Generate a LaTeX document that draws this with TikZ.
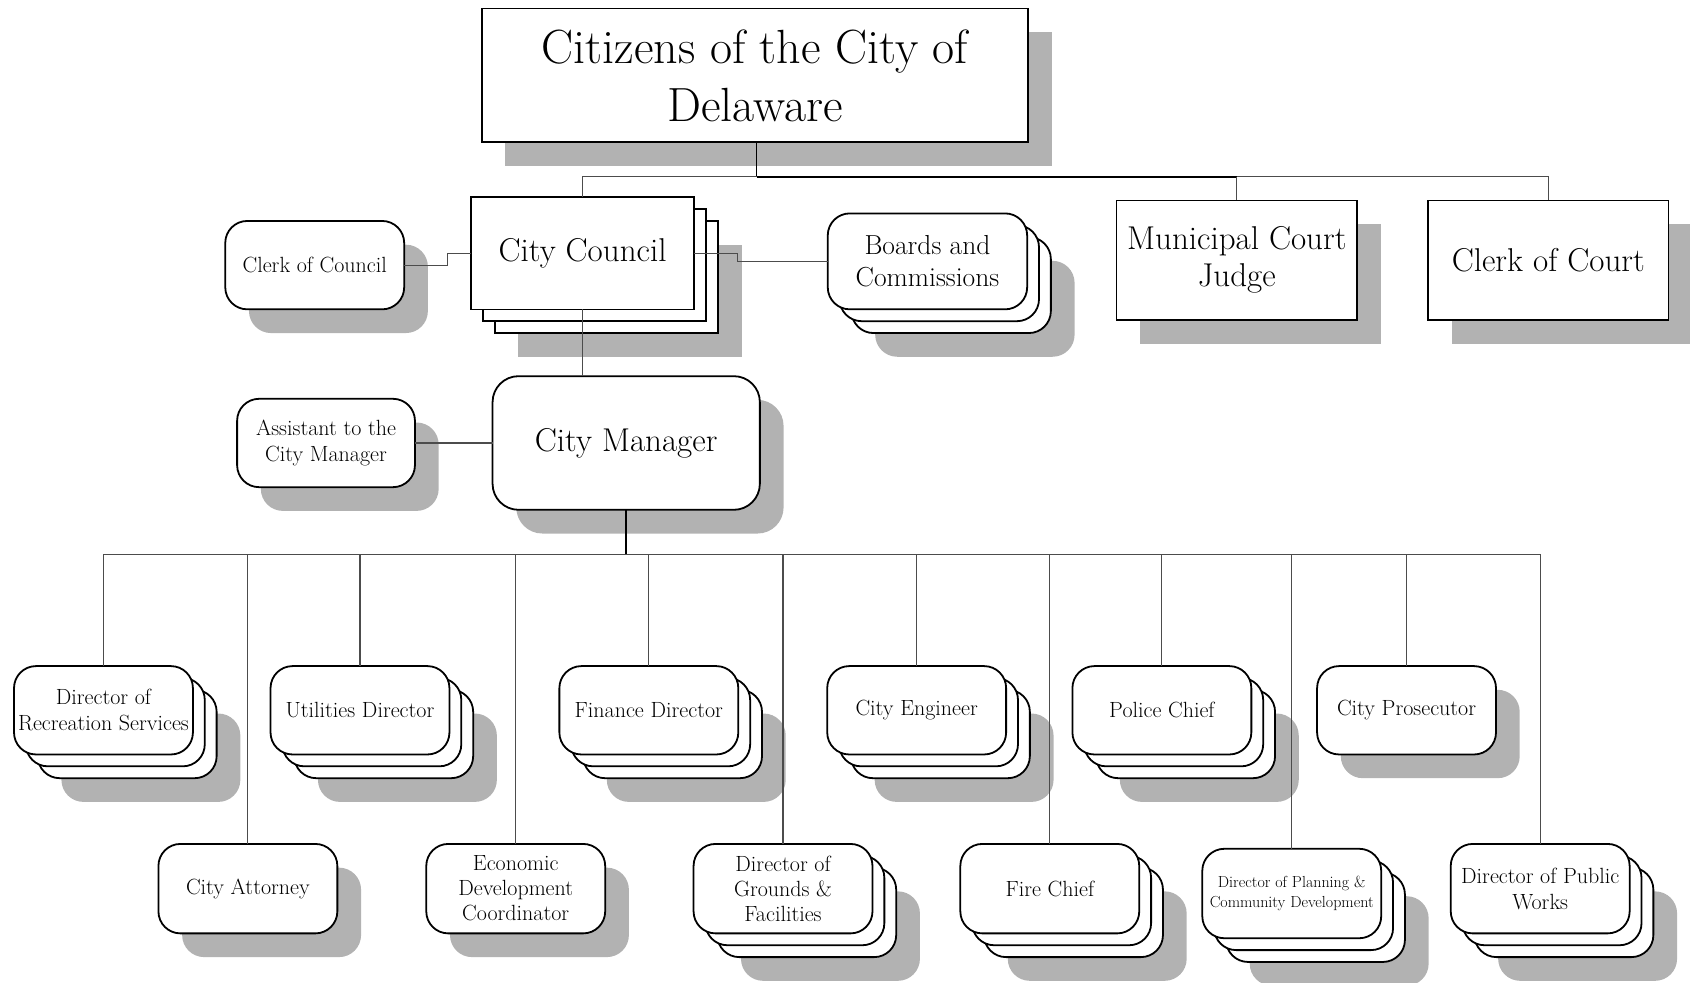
\documentclass[tikz,border=0pt]{standalone}
\usetikzlibrary{calc}
\pgfdeclarelayer{shd}
\pgfdeclarelayer{back}
\pgfsetlayers{shd,back,main}
\newcommand{\fhuge}{\fontsize{48}{58}\selectfont}
\newcommand{\fbig}{\fontsize{33}{37}\selectfont}
\newcommand{\fmid}{\fontsize{27.5}{32}\selectfont}
\newcommand{\fsm}{\fontsize{22}{26}\selectfont}
\newcommand{\fsmm}{\fontsize{22}{25}\selectfont}
\newcommand{\ftiny}{\fontsize{16}{19.5}\selectfont}
\tikzset{
  shd/.style={fill=gray!60, draw=none},
  rbox/.style={draw=black, fill=white, line width=1.8pt, rounded corners=22pt, inner sep=0pt, outer sep=0pt, align=center},
  rboxl/.style={draw=black, fill=white, line width=1.8pt, rounded corners=26pt, inner sep=0pt, outer sep=0pt, align=center},
  sbox/.style={draw=black, fill=white, line width=1.6pt, inner sep=0pt, outer sep=0pt, align=center},
  conn/.style={draw=black!70, line width=1.1pt},
  connb/.style={draw=black, line width=2pt},
  connm/.style={draw=black, line width=1.5pt},
}
% name, style, cx, cy, w, h, stack(0/1), text
\newcommand{\orgnode}[8]{%
  \node[#2, minimum width={#5*1.0778pt}, minimum height={#6*1.0778pt}] (#1) at (#3,#4) {#8};
  \ifnum#7=1
    \begin{pgfonlayer}{back}
      \draw[#2] ($(#1.south west)+(22,22)$) rectangle ($(#1.north east)+(22,22)$);
      \draw[#2] ($(#1.south west)+(11,11)$) rectangle ($(#1.north east)+(11,11)$);
    \end{pgfonlayer}
    \begin{pgfonlayer}{shd}
      \fill[#2,shd] ($(#1.south west)+(44,44)$) rectangle ($(#1.north east)+(44,44)$);
    \end{pgfonlayer}
  \else
    \begin{pgfonlayer}{shd}
      \fill[#2,shd] ($(#1.south west)+(22,22)$) rectangle ($(#1.north east)+(22,22)$);
    \end{pgfonlayer}
  \fi}
\begin{document}
\begin{tikzpicture}[x=1.0778pt, y=-1.0778pt]
\useasboundingbox (0,0) rectangle (1568,912);
% top level
\orgnode{cit}{sbox,font=\fhuge}{700.5}{70}{507}{124}{0}{Citizens of the City of\\Delaware}
\orgnode{cc}{sbox,font=\fbig}{540.5}{235}{207}{104}{1}{City Council}
\orgnode{coc}{rbox,font=\fsm}{292}{246}{166}{82}{0}{Clerk of Council}
\orgnode{bc}{rbox,font=\fmid}{860.5}{242.5}{185}{89}{1}{Boards and\\Commissions}
\orgnode{mcj}{sbox,font=\fbig}{1147.5}{241.5}{223}{111}{0}{Municipal Court\\Judge}
\orgnode{clc}{sbox,font=\fbig}{1436.5}{241.5}{223}{111}{0}{Clerk of Court}
\orgnode{cm}{rboxl,font=\fbig}{581}{411}{248}{124}{0}{City Manager}
\orgnode{asst}{rbox,font=\fsm}{302.5}{411}{165}{82}{0}{Assistant to the\\City Manager}
% upper row
\orgnode{rec}{rbox,font=\fsm}{96}{659}{166}{82}{1}{Director of\\Recreation Services}
\orgnode{util}{rbox,font=\fsm}{334}{659}{166}{82}{1}{Utilities Director}
\orgnode{fin}{rbox,font=\fsm}{602}{659}{166}{82}{1}{Finance Director}
\orgnode{eng}{rbox,font=\fsm}{850.5}{659}{166}{82}{1}{City Engineer}
\orgnode{pol}{rbox,font=\fsm}{1078}{659}{166}{82}{1}{Police Chief}
\orgnode{pros}{rbox,font=\fsm}{1305}{659}{166}{82}{0}{City Prosecutor}
% lower row
\orgnode{att}{rbox,font=\fsm}{230}{824.5}{166}{83}{0}{City Attorney}
\orgnode{econ}{rbox,font=\fsmm}{478.5}{824.5}{166}{83}{0}{Economic\\Development\\Coordinator}
\orgnode{grd}{rbox,font=\fsmm}{726.5}{824.5}{166}{83}{1}{Director of\\Grounds \&\\Facilities}
\orgnode{fire}{rbox,font=\fsm}{974}{824.5}{166}{83}{1}{Fire Chief}
\orgnode{plan}{rbox,font=\ftiny}{1198.5}{829}{166}{83}{1}{Director of Planning \&\\Community Development}
\orgnode{pw}{rbox,font=\fsm}{1429}{824.5}{166}{83}{1}{Director of Public\\Works}
% connectors top
\coordinate (bus1) at (702,164);
\coordinate (bus1r) at (1147.5,164);
\draw[connm] (cit.south -| bus1) -- (bus1);
\draw[conn] (bus1) -| (cc.north);
\draw[connb] (bus1) -- (bus1r);
\draw[conn] (bus1r) -- (mcj.north);
\draw[conn] (bus1r) -| (clc.north);
\coordinate (s1) at (415,0);
\draw[conn] (coc.east) -- (coc.east -| s1) -- (cc.west -| s1) -- (cc.west);
\coordinate (s2) at (684,0);
\draw[conn] (cc.east) -- (cc.east -| s2) -- (bc.west -| s2) -- (bc.west);
\draw[conn] (cc.south) -- (cc.south |- cm.north);
\draw[conn] (asst.east) -- (cm.west);
% connectors bottom
\coordinate (bus2) at (581,514.5);
\draw[connm] (cm.south) -- (bus2);
\foreach \n in {rec,att,util,econ,fin,grd,eng,fire,pol,plan,pros,pw}{
  \draw[conn] (bus2) -| (\n.north);
}
\end{tikzpicture}
\end{document}
